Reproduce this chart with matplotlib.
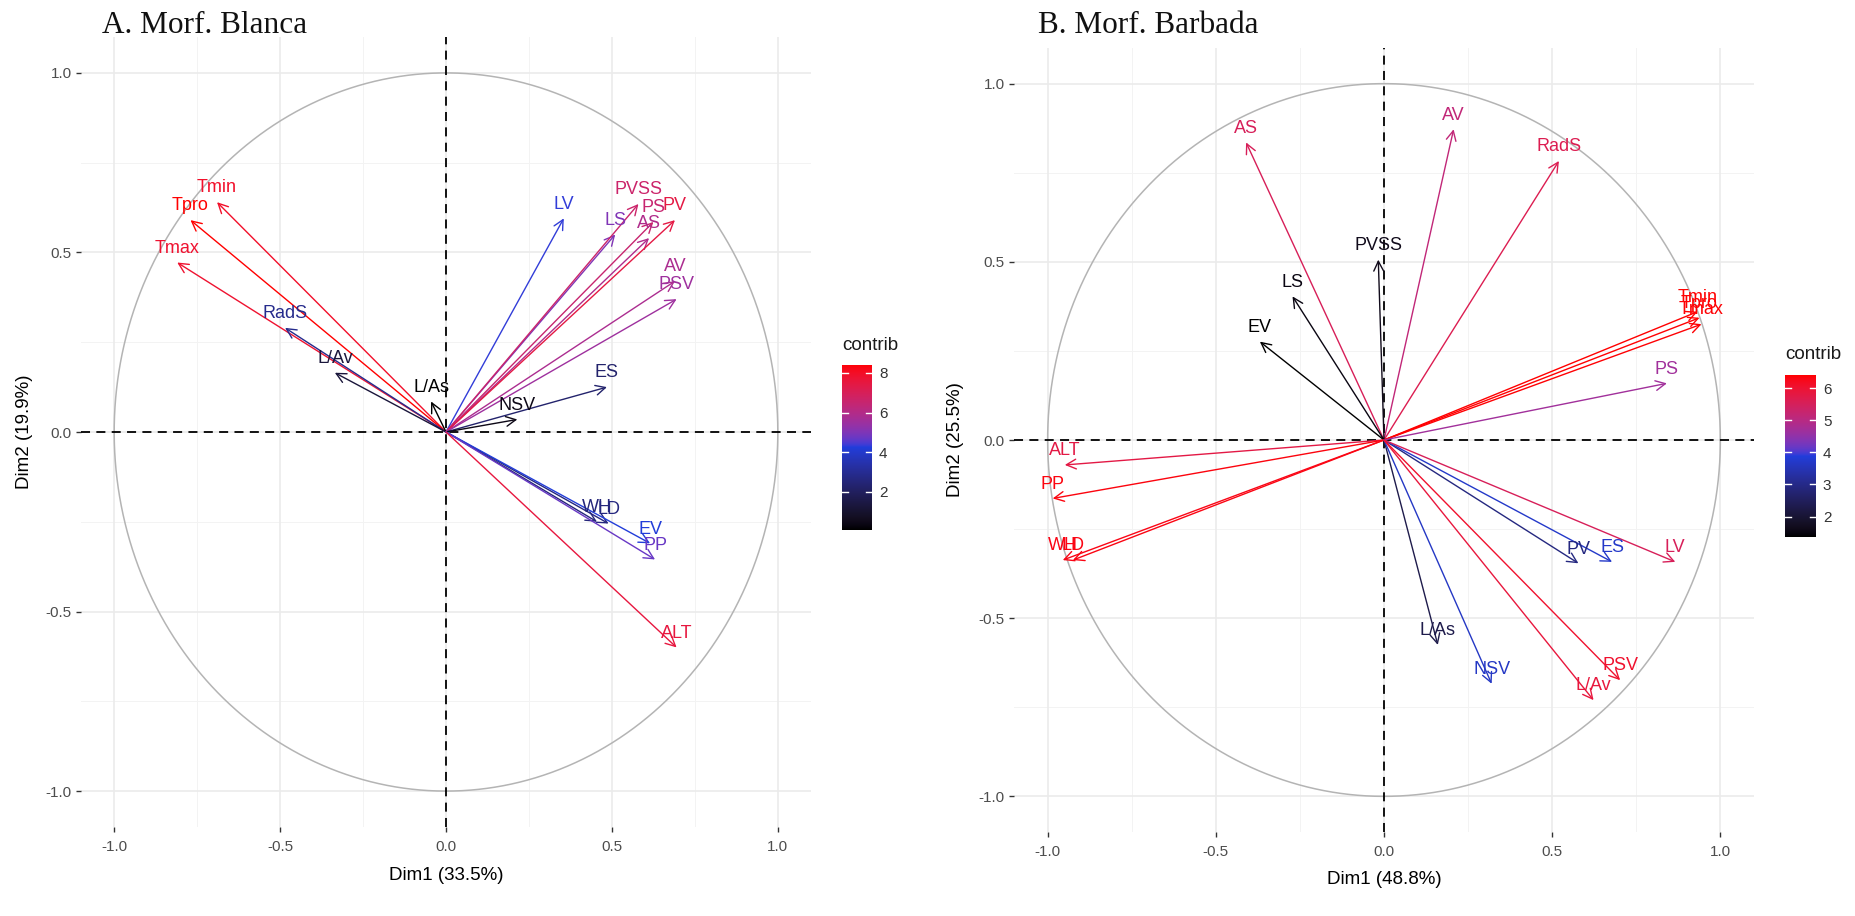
import numpy as np
import matplotlib
matplotlib.use("Agg")
import matplotlib.pyplot as plt

# ---------------- data ----------------
# Panel A: Morf. Blanca (Dim1 33.5 %, Dim2 19.9 %)
names_a = ["Tmin", "Tpro", "Tmax", "RadS", "L/Av", "L/As", "LV", "LS", "PVSS", "PS",
           "AS", "PV", "AV", "PSV", "ES", "NSV", "WH", "LD", "EV", "PP", "ALT"]
dim1_a = [-0.69, -0.77, -0.81, -0.485, -0.335, -0.045, 0.355, 0.51, 0.58, 0.625,
          0.612, 0.69, 0.69, 0.695, 0.485, 0.215, 0.455, 0.49, 0.615, 0.63, 0.695]
dim2_a = [0.64, 0.59, 0.472, 0.29, 0.165, 0.085, 0.595, 0.55, 0.635, 0.585,
          0.54, 0.59, 0.42, 0.37, 0.125, 0.035, -0.25, -0.255, -0.31, -0.355, -0.6]
contrib_a = [7.9, 8.4, 7.8, 2.85, 1.25, 0.08, 4.3, 5.0, 6.6, 6.5,
             5.9, 7.4, 5.8, 5.5, 2.25, 0.42, 2.5, 2.6, 4.2, 4.7, 7.5]

# Panel B: Morf. Barbada (Dim1 48.8 %, Dim2 25.5 %)
names_b = ["AS", "AV", "RadS", "PVSS", "LS", "EV", "Tmin", "Tpro", "Tmax", "PS",
           "ALT", "PP", "WH", "LD", "PV", "ES", "LV", "L/As", "NSV", "L/Av", "PSV"]
dim1_b = [-0.41, 0.207, 0.52, -0.017, -0.272, -0.369, 0.932, 0.938, 0.944, 0.841,
          -0.949, -0.985, -0.955, -0.925, 0.578, 0.678, 0.866, 0.16, 0.32, 0.623, 0.702]
dim2_b = [0.835, 0.872, 0.783, 0.506, 0.403, 0.276, 0.36, 0.343, 0.325, 0.159,
          -0.07, -0.164, -0.337, -0.337, -0.346, -0.342, -0.342, -0.575, -0.684, -0.73, -0.674]
contrib_b = [5.55, 5.15, 5.65, 1.64, 1.51, 1.36, 6.42, 6.41, 6.4, 4.7,
             5.8, 6.35, 6.3, 6.32, 2.9, 3.7, 5.55, 2.28, 3.65, 5.9, 6.07]

axis_ticks = [-1.0, -0.5, 0.0, 0.5, 1.0]
cb_ticks_a = [2, 4, 6, 8]
cb_ticks_b = [2, 3, 4, 5, 6]

# ---------------- helpers ----------------
SANS = "Liberation Sans"
SERIF = "Liberation Serif"
W, H = 1856, 916


def _lin(c):
    c = np.asarray(c, float)
    return np.where(c <= 0.04045, c / 12.92, ((c + 0.055) / 1.055) ** 2.4)


def _gam(c):
    c = np.clip(c, 0, 1)
    return np.where(c <= 0.0031308, 12.92 * c, 1.055 * c ** (1 / 2.4) - 0.055)


_M = np.array([[0.4124, 0.3576, 0.1805], [0.2126, 0.7152, 0.0722], [0.0193, 0.1192, 0.9505]])
_WHITE = np.array([0.95047, 1.0, 1.08883])


def rgb2lab(rgb):
    xyz = _M @ _lin(rgb) / _WHITE
    f = np.where(xyz > 0.008856, np.cbrt(xyz), 7.787 * xyz + 16 / 116)
    return np.array([116 * f[1] - 16, 500 * (f[0] - f[1]), 200 * (f[1] - f[2])])


def lab2rgb(lab):
    L, a, b = lab
    fy = (L + 16) / 116
    f = np.array([fy + a / 500, fy, fy - b / 200])
    xyz = np.where(f ** 3 > 0.008856, f ** 3, (f - 16 / 116) / 7.787) * _WHITE
    return _gam(np.linalg.solve(_M, xyz))


# black -> blue -> red, interpolated in CIELAB
GRAD = [(0, 0, 0), (0.13, 0.24, 0.86), (1, 0, 0)]
GRAD_LAB = [rgb2lab(c) for c in GRAD]


def contrib_colour(t):
    t = float(np.clip(t, 0, 1)) * (len(GRAD) - 1)
    i = min(int(t), len(GRAD) - 2)
    f = t - i
    return tuple(lab2rgb(GRAD_LAB[i] * (1 - f) + GRAD_LAB[i + 1] * f))


def px_axes(x0, y0, x1, y1):
    return [x0 / W, 1 - y1 / H, (x1 - x0) / W, (y1 - y0) / H]


def draw_panel(rect, names, d1, d2, contrib, title, title_xy, xlab, xlab_xy,
               ylab, ylab_xy, cb_rect, cb_ticks, cb_title_xy):
    ax = fig.add_axes(px_axes(*rect))
    ax.set_xlim(-1.1, 1.1)
    ax.set_ylim(-1.1, 1.1)
    for s in ax.spines.values():
        s.set_visible(False)
    for v in [-0.75, -0.25, 0.25, 0.75]:
        ax.axvline(v, color="#f3f3f3", lw=0.7, zorder=0)
        ax.axhline(v, color="#f3f3f3", lw=0.7, zorder=0)
    for v in axis_ticks:
        ax.axvline(v, color="#ebebeb", lw=1.2, zorder=0)
        ax.axhline(v, color="#ebebeb", lw=1.2, zorder=0)
    th = np.linspace(0, 2 * np.pi, 500)
    ax.plot(np.cos(th), np.sin(th), color="#b4b4b4", lw=1.1, zorder=1)
    ax.axhline(0, color="black", lw=1.3, ls=(0, (5, 3.5)), zorder=2)
    ax.axvline(0, color="black", lw=1.3, ls=(0, (5, 3.5)), zorder=2)

    lo, hi = min(contrib), max(contrib)
    cols = [contrib_colour((c - lo) / (hi - lo)) for c in contrib]
    for x, y, c in zip(d1, d2, cols):
        ax.annotate("", xy=(x, y), xytext=(0, 0),
                    arrowprops=dict(arrowstyle="->,head_length=0.7,head_width=0.35",
                                    color=c, lw=1.0, shrinkA=0, shrinkB=0),
                    zorder=3)
    for n, x, y, c in zip(names, d1, d2, cols):
        ax.annotate(n, xy=(x, y), xytext=(0, 7), textcoords="offset points",
                    ha="center", va="baseline", fontsize=13, color=c,
                    family=SANS, zorder=4)

    ax.set_xticks(axis_ticks)
    ax.set_yticks(axis_ticks)
    ax.set_xticklabels([f"{t:.1f}" for t in axis_ticks], family=SANS)
    ax.set_yticklabels([f"{t:.1f}" for t in axis_ticks], family=SANS)
    ax.tick_params(length=3.5, width=1.0, color="#333333", labelcolor="#4d4d4d",
                   labelsize=11, pad=3)
    ax.tick_params(axis="x", pad=6)

    fig.text(title_xy[0] / W, 1 - title_xy[1] / H, title, family=SERIF,
             fontsize=22.5, ha="left", va="baseline", color="#111111")
    fig.text(xlab_xy[0] / W, 1 - xlab_xy[1] / H, xlab, family=SANS, fontsize=13.5,
             ha="center", va="center", color="black")
    fig.text(ylab_xy[0] / W, 1 - ylab_xy[1] / H, ylab, family=SANS, fontsize=13.5,
             ha="center", va="center", rotation=90, color="black")

    # colour bar
    cax = fig.add_axes(px_axes(*cb_rect))
    vals = np.linspace(lo, hi, 256)
    img = np.array([contrib_colour((v - lo) / (hi - lo)) for v in vals])[:, None, :]
    cax.imshow(img, extent=[0, 1, lo, hi], origin="lower", aspect="auto")
    cax.set_xlim(0, 1)
    cax.set_ylim(lo, hi)
    for s in cax.spines.values():
        s.set_visible(False)
    cax.set_xticks([])
    cax.set_yticks(cb_ticks)
    cax.yaxis.tick_right()
    cax.set_yticklabels([str(t) for t in cb_ticks], family=SANS)
    cax.tick_params(axis="y", length=0, labelsize=11, labelcolor="#333333", pad=5)
    for t in cb_ticks:
        cax.plot([0, 0.2], [t, t], color="white", lw=1.0)
        cax.plot([0.8, 1], [t, t], color="white", lw=1.0)
    fig.text(cb_title_xy[0] / W, 1 - cb_title_xy[1] / H, "contrib", family=SANS,
             fontsize=13.5, ha="left", va="center", color="#1a1a1a")
    return ax


fig = plt.figure(figsize=(W / 100, H / 100), dpi=100)
fig.patch.set_facecolor("white")

draw_panel((81, 37, 811, 827), names_a, dim1_a, dim2_a, contrib_a,
           "A. Morf. Blanca", (102, 33), "Dim1 (33.5%)", (446, 875),
           "Dim2 (19.9%)", (25, 432), (842, 365, 872, 530), cb_ticks_a, (842, 346))
draw_panel((1014, 48, 1754, 832), names_b, dim1_b, dim2_b, contrib_b,
           "B. Morf. Barbada", (1038, 33), "Dim1 (48.8%)", (1384, 880),
           "Dim2 (25.5%)", (956, 440), (1785, 375, 1816, 537), cb_ticks_b, (1785, 355))

fig.savefig("out.png", dpi=100, facecolor="white")
